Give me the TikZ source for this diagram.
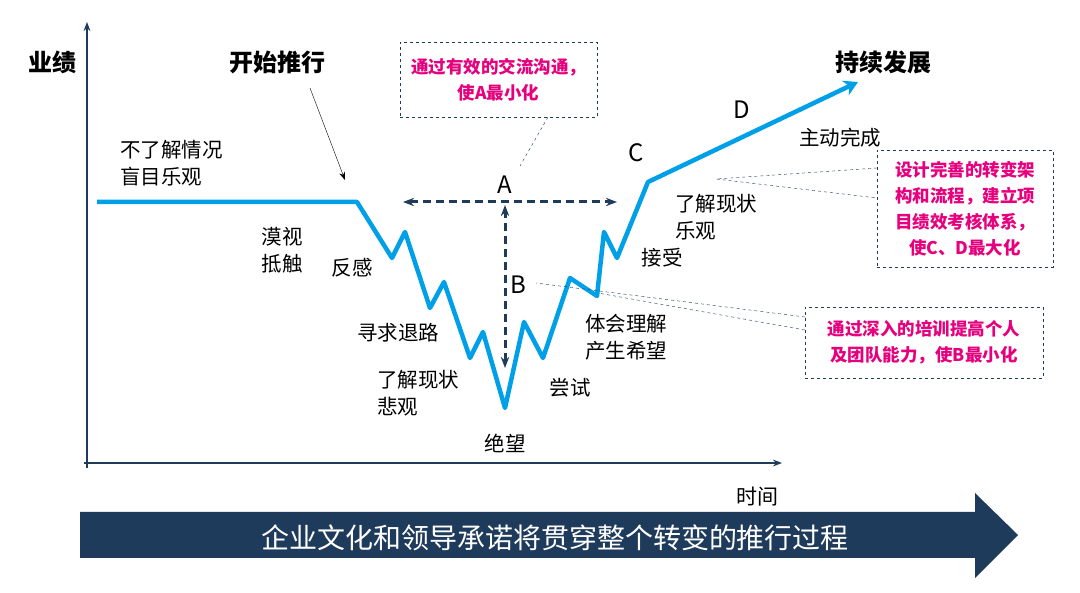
\documentclass[tikz,border=0pt]{standalone}
\usepackage{fontspec}
\setmainfont{Noto Sans CJK SC}
\usetikzlibrary{arrows.meta}
\definecolor{cblue}{HTML}{00A0E9}
\definecolor{navy}{HTML}{1F3B5C}
\definecolor{pinkt}{HTML}{E6007E}
\tikzset{lbl/.style={font=\fontsize{20.5}{27}\selectfont,align=left,inner sep=0pt},
 ttl/.style={font=\fontsize{24}{28}\selectfont\bfseries,inner sep=0pt},
 let/.style={font=\fontsize{24}{28}\selectfont,inner sep=0pt},
 call/.style={draw=navy,dashed,thin,font=\fontsize{17.5}{26}\selectfont\bfseries,text=pinkt,align=center},
 dl/.style={draw=navy,dashed,thin},
 darr/.style={navy,line width=3pt,dash pattern=on 8pt off 5pt,{Stealth[length=11pt]}-{Stealth[length=11pt]}}}
\begin{document}
\begin{tikzpicture}[x=1pt,y=-1pt]
\useasboundingbox[fill=white] (0,0) rectangle (1080,593);
% axes
\coordinate (yt) at (87,22);
\coordinate (xt) at (782,463);
\draw[line width=2.2pt,navy,-{Stealth[length=9pt]}] (87,468) -- (yt);
\draw[line width=2.2pt,navy,-{Stealth[length=9pt]}] (84,463) -- (xt);
\node[ttl] (yl) at (52,62) {业绩};
\node[ttl,font=\fontsize{21}{24}\selectfont] (xl) at (757,497) {时间};
% curve
\draw[cblue,line width=4.5pt,line join=round,-{Stealth[length=14pt,width=16pt]}] (97,202)--(357,202)--(392,258)--(405,232)--(430,308)--(444,282)--(470,358)--(483,332)--(505,408)--(524,322)--(543,358)--(570,278)--(597,296)--(604,232)--(617,258)--(648,182)--(858,82);
% dashed arrows
\coordinate (hl) at (403,202); \coordinate (hr) at (617,202);
\coordinate (vt) at (505,205); \coordinate (vb) at (505,368);
\draw[darr] (hl)--(hr);
\draw[darr] (vb)--(vt);
\node[let] (A) at (505,185) {A};
\node[let] (B) at (518,285) {B};
\node[let] (C) at (636,153) {C};
\node[let] (D) at (742,110) {D};
% titles
\node[ttl] (start) at (277,62) {开始推行};
\coordinate (sa) at (345,180);
\draw[-{Stealth[length=8pt]},thin] (310,88) -- (sa);
\node[ttl] (cont) at (883,62) {持续发展};
% labels
\node[lbl,anchor=west] (l1) at (120,163) {不了解情况\\盲目乐观};
\node[lbl] (l2) at (282,250) {漠视\\抵触};
\node[lbl] (l3) at (352,268) {反感};
\node[lbl] (l4) at (398,333) {寻求退路};
\node[lbl] (l5) at (418,393) {了解现状\\悲观};
\node[lbl] (l6) at (505,443) {绝望};
\node[lbl] (l7) at (570,388) {尝试};
\node[lbl] (l8) at (626,337) {体会理解\\产生希望};
\node[lbl] (l9) at (662,258) {接受};
\node[lbl] (l10) at (716,217) {了解现状\\乐观};
\node[lbl] (l11) at (840,138) {主动完成};
% callouts
\node[call,minimum width=197pt,minimum height=75pt] (c1) at (498.5,79.5) {通过有效的交流沟通，\\使A最小化};
\coordinate (c1e) at (520,166);
\draw[dl] (548,117) -- (c1e);
\node[call,minimum width=176pt,minimum height=117pt] (c2) at (965,208.5) {设计完善的转变架\\构和流程，建立项\\目绩效考核体系，\\使C、D最大化};
\coordinate (c2e) at (716,179);
\draw[dl] (877,168) -- (c2e) -- (877,198);
\node[call,minimum width=238pt,minimum height=71pt] (c3) at (924,342.5) {通过深入的培训提高个人\\及团队能力，使B最小化};
\coordinate (c3a) at (536,283); \coordinate (c3b) at (598,293);
\draw[dl] (805,317) -- (c3a);
\draw[dl] (805,330) -- (c3b);
% bottom arrow
\fill[navy] (80,512) -- (975,512) -- (975,493) -- (1018,535) -- (975,578) -- (975,558) -- (80,558) -- cycle;
\node[text=white,font=\fontsize{28}{32}\selectfont,inner sep=0pt] (bt) at (555,538) {企业文化和领导承诺将贯穿整个转变的推行过程};
\end{tikzpicture}
\end{document}
